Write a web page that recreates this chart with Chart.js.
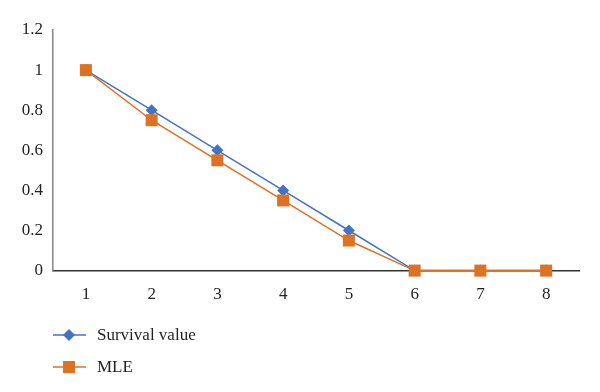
<!DOCTYPE html>
<html>
<head>
<meta charset="utf-8">
<script src="https://cdn.jsdelivr.net/npm/chart.js@4.4.0/dist/chart.umd.min.js"></script>
<style>
  html, body { margin: 0; padding: 0; background: #fff; }
  #wrap { width: 600px; height: 392px; }
</style>
</head>
<body>
<div id="wrap"><canvas id="myChart" width="600" height="392"></canvas></div>
<script>
// data
const labels = ["1", "2", "3", "4", "5", "6", "7", "8"];
const survivalValue = [1, 0.8, 0.6, 0.4, 0.2, 0, 0, 0];
const mle = [1, 0.75, 0.55, 0.35, 0.15, 0, 0, 0];
const yTicks = [0, 0.2, 0.4, 0.6, 0.8, 1, 1.2];

const blue = "#4472C4";
const orange = "#DD7124";
const serif = "'Liberation Serif', 'DejaVu Serif', serif";

// legend drawn under the plot, line + marker like the original
const bottomLegend = {
  id: "bottomLegend",
  afterDraw(chart) {
    const ctx = chart.ctx;
    const rows = [335, 367];
    chart.data.datasets.forEach((ds, i) => {
      const y = rows[i];
      ctx.save();
      ctx.strokeStyle = ds.borderColor;
      ctx.lineWidth = 1.5;
      ctx.beginPath();
      ctx.moveTo(53, y);
      ctx.lineTo(86, y);
      ctx.stroke();
      ctx.fillStyle = ds.backgroundColor;
      if (ds.pointStyle === "rectRot") {
        ctx.beginPath();
        ctx.moveTo(69, y - 6);
        ctx.lineTo(75, y);
        ctx.lineTo(69, y + 6);
        ctx.lineTo(63, y);
        ctx.closePath();
        ctx.fill();
      } else {
        ctx.fillRect(63, y - 6, 12, 12);
      }
      ctx.fillStyle = "#231f20";
      ctx.font = "17px " + serif;
      ctx.textBaseline = "middle";
      ctx.fillText(ds.label, 97, y + 1);
      ctx.restore();
    });
  }
};

new Chart(document.getElementById("myChart"), {
  type: "line",
  data: {
    labels: labels,
    datasets: [
      {
        label: "Survival value",
        data: survivalValue,
        borderColor: blue,
        backgroundColor: blue,
        borderWidth: 1.5,
        pointStyle: "rectRot",
        pointRadius: 6,
        pointBorderWidth: 0,
        clip: false,
        order: 1,
        tension: 0
      },
      {
        label: "MLE",
        data: mle,
        borderColor: orange,
        backgroundColor: orange,
        borderWidth: 1.5,
        pointStyle: "rect",
        pointRadius: 8.5,
        pointBorderWidth: 0,
        clip: false,
        order: 0,
        tension: 0
      }
    ]
  },
  options: {
    responsive: false,
    animation: false,
    layout: { padding: { top: 30, right: 21, bottom: 73, left: 0 } },
    plugins: {
      legend: { display: false },
      tooltip: { enabled: false }
    },
    scales: {
      x: {
        offset: true,
        grid: { display: false, drawTicks: false },
        border: { color: "#333", width: 1.5 },
        ticks: { color: "#231f20", font: { family: serif, size: 17 }, padding: 14 }
      },
      y: {
        min: 0,
        max: 1.2,
        afterBuildTicks(scale) {
          scale.ticks = yTicks.map(v => ({ value: v }));
        },
        afterFit(scale) { scale.width = 53; },
        grid: { display: false, drawTicks: false },
        border: { color: "#888", width: 1.5 },
        ticks: {
          color: "#231f20",
          font: { family: serif, size: 17 },
          padding: 10,
          callback: v => String(Math.round(v * 10) / 10)
        }
      }
    }
  },
  plugins: [bottomLegend]
});
</script>
</body>
</html>
